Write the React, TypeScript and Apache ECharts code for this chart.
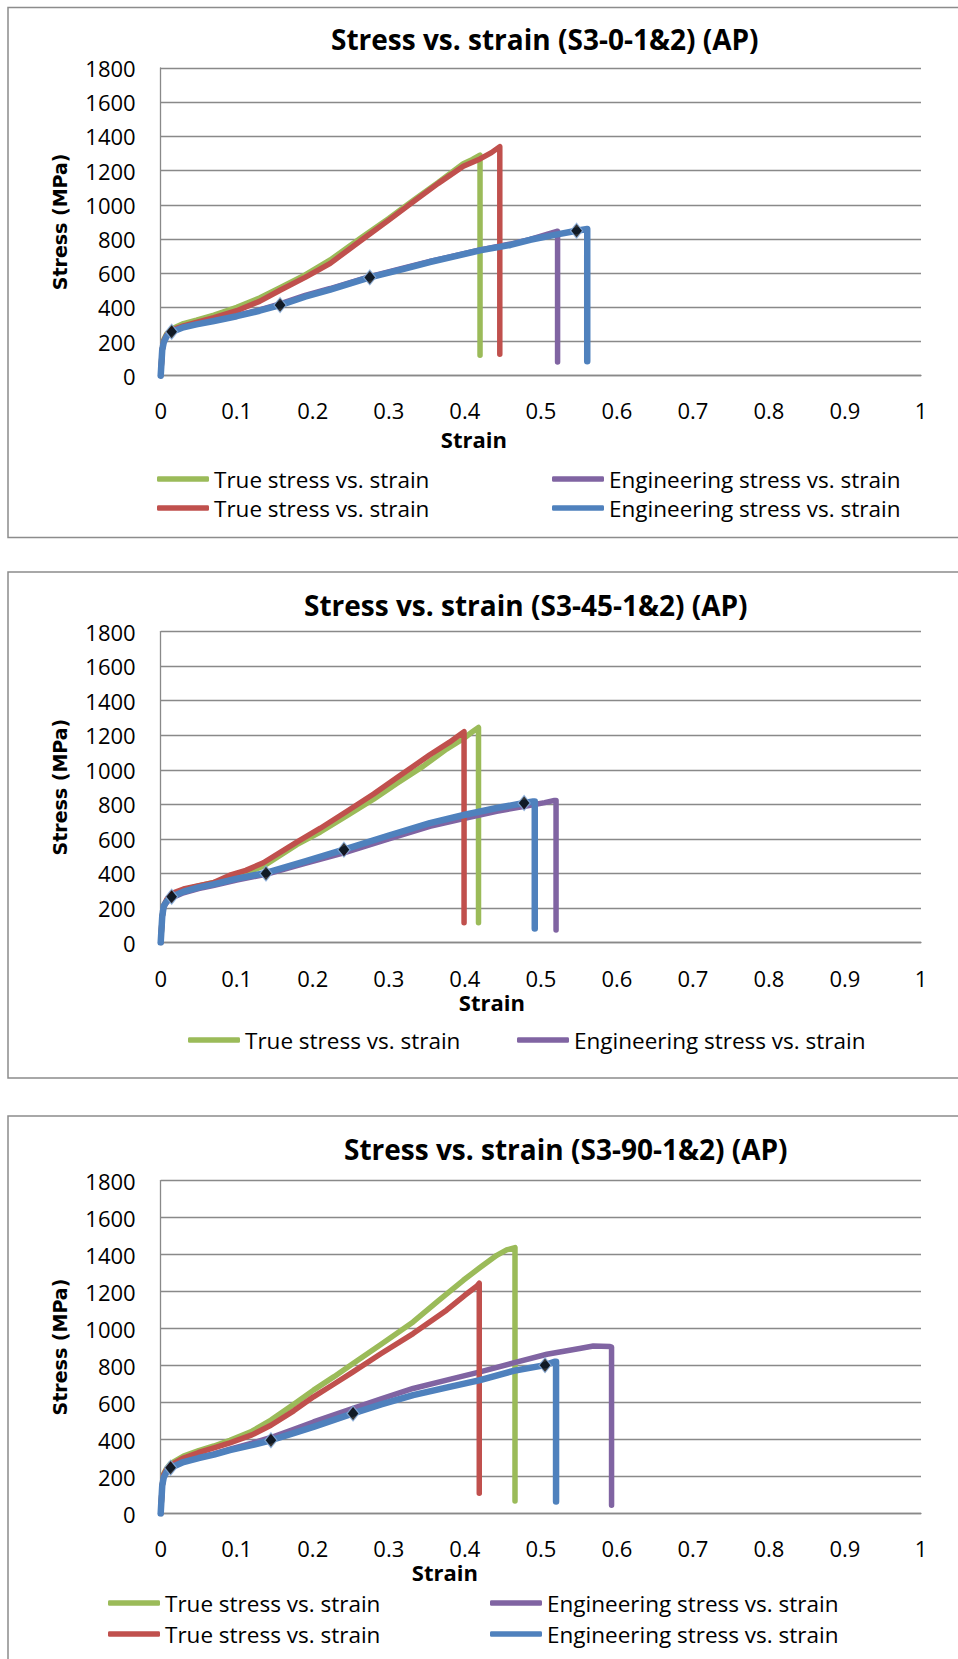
import React, { useEffect, useRef } from "react";
import * as echarts from "echarts";

// ---------- data (strain, stress MPa) ----------
const xTicks = [0, 0.1, 0.2, 0.3, 0.4, 0.5, 0.6, 0.7, 0.8, 0.9, 1];
const yTicks = [0, 200, 400, 600, 800, 1000, 1200, 1400, 1600, 1800];

const titles = [
  "Stress vs. strain (S3-0-1&2) (AP)",
  "Stress vs. strain (S3-45-1&2) (AP)",
  "Stress vs. strain (S3-90-1&2) (AP)",
];
const seriesLabels = [
  "True stress vs. strain",
  "Engineering stress vs. strain",
  "True stress vs. strain",
  "Engineering stress vs. strain",
];

// chart 1 (S3-0)
const c1TrueA = [[0,0],[0.002,150],[0.004,210],[0.008,245],[0.015,275],[0.03,305],[0.047,325],[0.07,355],[0.1,400],[0.13,455],[0.157,515],[0.19,590],[0.223,677],[0.266,815],[0.3,920],[0.332,1025],[0.365,1130],[0.398,1240],[0.41,1265],[0.42,1290],[0.42,120]];
const c1EngA = [[0,0],[0.002,150],[0.004,200],[0.008,235],[0.015,258],[0.03,285],[0.047,305],[0.07,325],[0.1,352],[0.13,385],[0.157,420],[0.19,470],[0.223,510],[0.275,580],[0.32,630],[0.354,668],[0.42,735],[0.46,770],[0.486,797],[0.51,830],[0.522,845],[0.522,80]];
const c1TrueB = [[0,0],[0.002,150],[0.004,205],[0.008,240],[0.015,268],[0.03,292],[0.047,312],[0.07,340],[0.1,380],[0.13,435],[0.157,500],[0.19,575],[0.223,657],[0.266,800],[0.3,910],[0.332,1017],[0.365,1125],[0.398,1225],[0.42,1268],[0.435,1305],[0.446,1340],[0.446,125]];
const c1EngB = [[0,0],[0.002,150],[0.004,195],[0.008,232],[0.015,257],[0.03,283],[0.047,300],[0.07,320],[0.1,348],[0.13,380],[0.157,413],[0.19,462],[0.223,503],[0.275,575],[0.32,625],[0.354,665],[0.42,733],[0.46,765],[0.486,795],[0.52,825],[0.547,848],[0.561,858],[0.561,85]];
const c1Markers = [[0.0144,257],[0.157,413],[0.275,575],[0.547,848]];

// chart 2 (S3-45)
const c2TrueA = [[0,0],[0.002,150],[0.004,210],[0.008,245],[0.015,280],[0.03,305],[0.05,328],[0.07,348],[0.1,382],[0.135,442],[0.179,567],[0.21,640],[0.245,735],[0.28,830],[0.31,920],[0.345,1020],[0.376,1120],[0.398,1180],[0.41,1220],[0.418,1245],[0.418,115]];
const c2EngA = [[0,0],[0.002,150],[0.004,205],[0.008,235],[0.0144,258],[0.03,288],[0.05,313],[0.069,330],[0.1,362],[0.1385,395],[0.19,458],[0.241,519],[0.3,600],[0.354,673],[0.4,720],[0.442,760],[0.49,798],[0.505,810],[0.518,823],[0.52,823],[0.52,73]];
const c2TrueB = [[0,0],[0.002,150],[0.004,215],[0.008,250],[0.015,285],[0.03,310],[0.05,330],[0.069,346],[0.091,390],[0.112,418],[0.135,462],[0.179,582],[0.21,662],[0.245,760],[0.28,860],[0.31,952],[0.354,1087],[0.38,1160],[0.399,1221],[0.399,115]];
const c2EngB = [[0,0],[0.002,150],[0.004,212],[0.008,240],[0.0144,265],[0.03,295],[0.05,320],[0.069,337],[0.1,370],[0.1385,403],[0.19,470],[0.241,538],[0.3,620],[0.354,692],[0.4,740],[0.442,779],[0.478,808],[0.49,817],[0.492,817],[0.492,81]];
const c2Markers = [[0.0144,265],[0.1385,400],[0.241,538],[0.478,808]];

// chart 3 (S3-90)
const c3TrueA = [[0,0],[0.002,150],[0.004,215],[0.008,245],[0.013,270],[0.03,310],[0.05,340],[0.07,365],[0.091,396],[0.12,445],[0.145,505],[0.175,590],[0.201,667],[0.228,740],[0.253,811],[0.29,915],[0.332,1036],[0.365,1150],[0.398,1261],[0.42,1330],[0.442,1396],[0.455,1425],[0.466,1438],[0.466,68]];
const c3EngA = [[0,0],[0.002,150],[0.004,200],[0.008,232],[0.013,250],[0.03,282],[0.05,305],[0.07,322],[0.091,348],[0.12,380],[0.145,411],[0.175,455],[0.201,495],[0.253,568],[0.29,620],[0.332,676],[0.38,725],[0.42,766],[0.464,814],[0.508,861],[0.551,892],[0.569,906],[0.591,903],[0.593,900],[0.593,45]];
const c3TrueB = [[0,0],[0.002,150],[0.004,210],[0.008,240],[0.013,261],[0.03,300],[0.05,330],[0.07,355],[0.091,382],[0.12,425],[0.145,477],[0.175,555],[0.201,631],[0.228,700],[0.253,766],[0.29,865],[0.332,973],[0.376,1099],[0.4,1180],[0.416,1230],[0.419,1245],[0.419,109]];
const c3EngB = [[0,0],[0.002,150],[0.004,195],[0.008,228],[0.013,247],[0.03,278],[0.05,300],[0.07,318],[0.091,343],[0.12,370],[0.145,396],[0.175,435],[0.201,468],[0.253,541],[0.29,590],[0.332,640],[0.38,685],[0.42,721],[0.464,771],[0.5055,802],[0.518,820],[0.52,820],[0.52,65]];
const c3Markers = [[0.013,247],[0.145,396],[0.253,541],[0.5055,802]];

const chartSeries = [
  [c1TrueA, c1EngA, c1TrueB, c1EngB],
  [c2TrueA, c2EngA, c2TrueB, c2EngB],
  [c3TrueA, c3EngA, c3TrueB, c3EngB],
];
const chartMarkers = [c1Markers, c2Markers, c3Markers];
// which series appear in each chart's legend
const legendItems = [[0, 1, 2, 3], [0, 1], [0, 1, 2, 3]];

// ---------- styles / layout ----------
const COLORS = ["#9BBB59", "#8064A2", "#C0504D", "#4F81BD"];
const WIDTHS = [5.5, 5.5, 5.5, 6.5];
const GRID_COLOR = "#898989";
const FONT = "Open Sans";

const layouts = [
  { box: [8, 7.5, 1000, 530], grid: [68, 307.7], title: [331, 22], nameGapX: 51, namePadX: 134, labelMarginX: 23,
    legendCols: [157, 552], legendRows: [479, 508] },
  { box: [8, 572, 1000, 506], grid: [631.6, 311], title: [304, 588], nameGapX: 38.5, namePadX: 98, labelMarginX: 24,
    legendCols: [188, 517], legendRows: [1040] },
  { box: [8, 1116, 1000, 600], grid: [1180.6, 332.9], title: [344, 1131.5], nameGapX: 43, namePadX: 192, labelMarginX: 23.5,
    legendCols: [108, 490], legendRows: [1603, 1634] },
];

const seriesName = (ci: number, si: number) => `${seriesLabels[si]}|${ci}-${si}`;
const stripName = (n: string) => n.split("|")[0];

function buildOption() {
  const grid: any[] = [];
  const xAxis: any[] = [];
  const yAxis: any[] = [];
  const series: any[] = [];
  const title: any[] = [];
  const legend: any[] = [];
  const graphic: any[] = [];

  layouts.forEach((L, ci) => {
    graphic.push({
      type: "rect",
      silent: true,
      z: -10,
      shape: { x: L.box[0], y: L.box[1], width: L.box[2], height: L.box[3] },
      style: { fill: "#fff", stroke: "#8c8c8c", lineWidth: 1.5 },
    });
    title.push({
      text: titles[ci],
      left: L.title[0],
      top: L.title[1],
      padding: 0,
      textStyle: { fontFamily: FONT, fontWeight: "bold", fontSize: 28, color: "#000", lineHeight: 34 },
    });
    grid.push({ left: 160.7, right: 37, top: L.grid[0], height: L.grid[1], containLabel: false });
    xAxis.push({
      type: "value",
      gridIndex: ci,
      min: xTicks[0],
      max: xTicks[xTicks.length - 1],
      interval: 0.1,
      axisLine: { show: true, onZero: false, lineStyle: { color: GRID_COLOR, width: 1.3 } },
      axisTick: { show: false },
      splitLine: { show: false },
      axisLabel: {
        fontFamily: FONT, fontSize: 22, color: "#000", margin: L.labelMarginX, lineHeight: 22,
        formatter: (v: number) => String(Math.round(v * 10) / 10),
      },
      name: "Strain",
      nameLocation: "middle",
      nameGap: L.nameGapX,
      nameTextStyle: {
        fontFamily: FONT, fontWeight: "bold", fontSize: 22, color: "#000", lineHeight: 24,
        padding: [0, L.namePadX, 0, 0],
      },
    });
    yAxis.push({
      type: "value",
      gridIndex: ci,
      min: yTicks[0],
      max: yTicks[yTicks.length - 1],
      interval: 200,
      axisLine: { show: true, lineStyle: { color: GRID_COLOR, width: 1.3 } },
      axisTick: { show: false },
      splitLine: { show: true, lineStyle: { color: GRID_COLOR, width: 1.3 } },
      axisLabel: { fontFamily: FONT, fontSize: 22, color: "#000", margin: 25, formatter: (v: number) => String(v) },
      name: "Stress (MPa)",
      nameLocation: "middle",
      nameGap: 90,
      nameTextStyle: { fontFamily: "DejaVu Sans", fontWeight: "bold", fontSize: 19, color: "#000", lineHeight: 22 },
    });
    chartSeries[ci].forEach((data, si) => {
      series.push({
        type: "line",
        name: seriesName(ci, si),
        xAxisIndex: ci,
        yAxisIndex: ci,
        data,
        color: COLORS[si],
        symbol: "none",
        showSymbol: false,
        smooth: false,
        lineStyle: { width: WIDTHS[si], color: COLORS[si], cap: "round", join: "round" },
        z: 2 + si,
        silent: true,
      });
    });
    series.push({
      type: "scatter",
      name: `markers|${ci}`,
      xAxisIndex: ci,
      yAxisIndex: ci,
      data: chartMarkers[ci],
      symbol: "diamond",
      symbolSize: [12, 15],
      itemStyle: { color: "#000", borderColor: "#8DB3E2", borderWidth: 1.2 },
      z: 10,
      silent: true,
    });
    legendItems[ci].forEach((si, k) => {
      const col = k % 2;
      const row = Math.floor(k / 2);
      legend.push({
        data: [{ name: seriesName(ci, si), itemStyle: { color: COLORS[si], borderWidth: 0 } }],
        left: L.legendCols[col],
        top: L.legendRows[row] - 13,
        padding: 0,
        orient: "horizontal",
        icon: "roundRect",
        itemWidth: 52,
        itemHeight: 5.5,
        itemStyle: { borderWidth: 0 },
        selectedMode: false,
        formatter: (n: string) => stripName(n),
        textStyle: { fontFamily: FONT, fontSize: 22.5, color: "#000", lineHeight: 26 },
      });
    });
  });

  return {
    animation: false,
    backgroundColor: "#ffffff",
    title,
    grid,
    xAxis,
    yAxis,
    legend,
    series,
    graphic,
  };
}

export default function App() {
  const ref = useRef<HTMLDivElement>(null);
  useEffect(() => {
    if (!ref.current) return;
    const chart = echarts.init(ref.current, undefined, { renderer: "svg" });
    chart.setOption(buildOption() as any);
    return () => chart.dispose();
  }, []);
  return (
    <div
      ref={ref}
      style={{ position: "absolute", left: 0, top: 0, width: 958, height: 1659, background: "#fff" }}
    />
  );
}
